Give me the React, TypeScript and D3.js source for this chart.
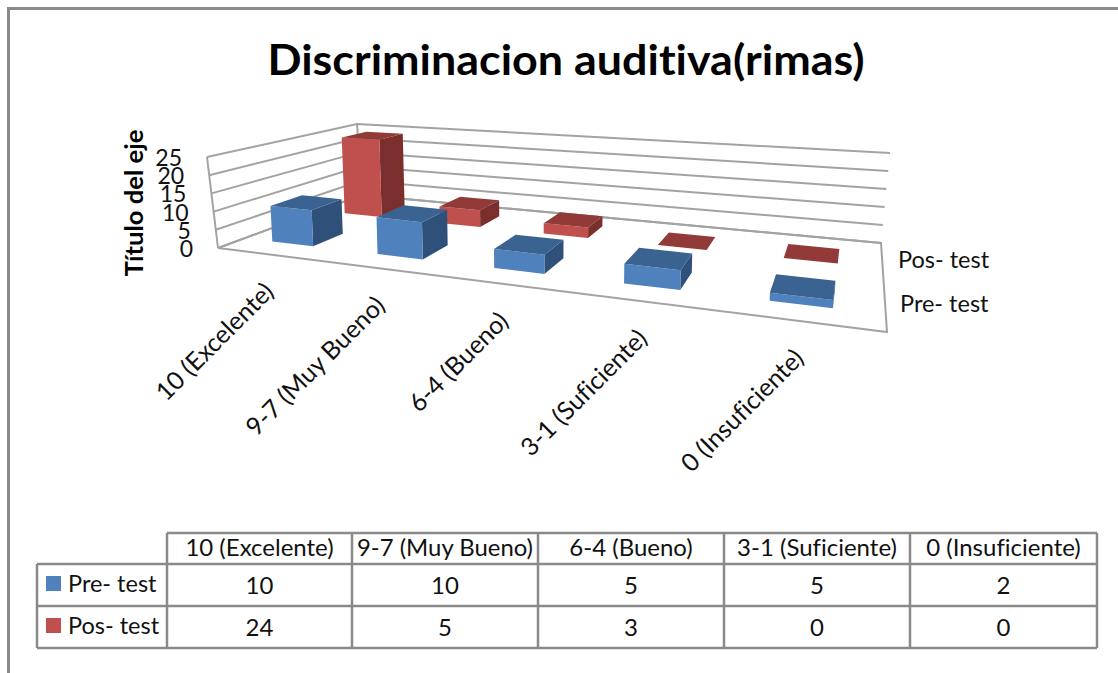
import React from "react";
import * as d3 from "d3";

const categories = ["10 (Excelente)", "9-7 (Muy Bueno)", "6-4 (Bueno)", "3-1 (Suficiente)", "0 (Insuficiente)"];
const preTest = [10, 10, 5, 5, 2];
const posTest = [24, 5, 3, 0, 0];
const seriesNames = ["Pre- test", "Pos- test"];
const valueTicks = [0, 5, 10, 15, 20, 25];

const FONT = "Lato, Carlito, sans-serif";
type P = [number, number];

// Homography from the unit square to a quad (p00,p10,p11,p01)
function quadMap(p00: P, p10: P, p11: P, p01: P) {
  const dx1 = p10[0] - p11[0], dx2 = p01[0] - p11[0], sx = p00[0] - p10[0] + p11[0] - p01[0];
  const dy1 = p10[1] - p11[1], dy2 = p01[1] - p11[1], sy = p00[1] - p10[1] + p11[1] - p01[1];
  const det = dx1 * dy2 - dx2 * dy1;
  const g = (sx * dy2 - dx2 * sy) / det;
  const h = (dx1 * sy - sx * dy1) / det;
  const a = p10[0] - p00[0] + g * p10[0], b = p01[0] - p00[0] + h * p01[0], c = p00[0];
  const d = p10[1] - p00[1] + g * p10[1], e = p01[1] - p00[1] + h * p01[1], f = p00[1];
  return (u: number, v: number): P => {
    const w = g * u + h * v + 1;
    return [(a * u + b * v + c) / w, (d * u + e * v + f) / w];
  };
}

const floor = quadMap([218, 248], [887, 332], [881, 243], [362, 195]);
// rise of the full 0-25 axis at the four floor corners: FL, FR, BR, BL
const rise: P[] = [[-11, -91], [9, -105], [9, -90], [-5, -71]];
const yScale = d3.scaleLinear().domain([0, 25]).range([0, 1]);
const project = (c: number, s: number, val: number, leanK = 1): P => {
  const a = floor(c, s), t = yScale(val);
  const lerp = (i: number) =>
    (1 - s) * ((1 - c) * rise[0][i] + c * rise[1][i]) + s * ((1 - c) * rise[3][i] + c * rise[2][i]);
  return [a[0] + lerp(0) * t * leanK, a[1] + lerp(1) * t];
};
const catBand = d3.scaleBand<string>().domain(categories).range([-0.004, 0.996]).paddingInner(0.6).paddingOuter(0.3);
const serBand = d3.scaleBand<string>().domain(seriesNames).range([0, 1]).paddingInner(0.6).paddingOuter(0.3);
const poly = (pts: P[]) => d3.line()(pts) + "Z";

const palette = [
  { front: "#4F81BD", top: "#3B6392", side: "#2F5179" },
  { front: "#C0504D", top: "#923A38", side: "#7B2F2D" },
];

function Bar({ ci, si, value }: { ci: number; si: number; value: number }) {
  const c0 = catBand(categories[ci])!, c1 = c0 + catBand.bandwidth();
  const s0 = serBand(seriesNames[si])!, s1 = s0 + serBand.bandwidth();
  const col = palette[si];
  const k = 0.5;
  const fb0 = project(c0, s0, 0), fb1 = project(c1, s0, 0), bb1 = project(c1, s1, 0);
  const ft0 = project(c0, s0, value, k), ft1 = project(c1, s0, value, k), bt0 = project(c0, s1, value, k), bt1 = project(c1, s1, value, k);
  return (
    <g>
      {bt1[0] > ft1[0] && value > 0 && <path d={poly([ft1, bt1, bb1, fb1])} fill={col.side} />}
      {value > 0 && <path d={poly([fb0, fb1, ft1, ft0])} fill={col.front} />}
      <path d={poly([ft0, ft1, bt1, bt0])} fill={col.top} />
    </g>
  );
}

const colX = [37, 167, 352, 538, 724, 910, 1097];
const rowY = [533, 564, 606, 648];
const LINE = "#8a8a8a";

export default function App() {
  const rows = [preTest, posTest];
  return (
    <svg width={1118} height={673} style={{ position: "absolute", left: 0, top: 0, background: "#fff", fontVariantLigatures: "none" }} fontFamily={FONT}>
      <path d="M8.5 673V8.5H1118" fill="none" stroke="#8a8a8a" strokeWidth={3} />
      <text x={566} y={75} textAnchor="middle" fontSize={42} fontWeight={700} fill="#000" textLength={597} lengthAdjust="spacingAndGlyphs">Discriminacion auditiva(rimas)</text>

      {/* walls */}
      <g fill="none" stroke="#a3a3a3" strokeWidth={2}>
        {valueTicks.map((t) => (
          <path key={t} d={d3.line()([project(0, 0, t), project(0, 1, t), project(1, 1, t)])!} />
        ))}
        <path d={d3.line()([project(0, 0, 0), project(0, 0, 25)])!} />
        <path d={d3.line()([project(0, 1, 0), project(0, 1, 25)])!} />
        <path d={poly([project(0, 0, 0), project(1, 0, 0), project(1, 1, 0), project(0, 1, 0)])} />
      </g>

      {/* bars, back row first */}
      {[1, 0].map((si) =>
        rows[si].map((v, ci) => <Bar key={si + "-" + ci} ci={ci} si={si} value={v} />)
      )}

      {/* value axis */}
      {valueTicks.map((t) => {
        const p = project(0, 0, t);
        return (
          <text key={t} x={p[0] - 25} y={p[1] + 9} textAnchor="end" fontSize={23} fill="#111">{t}</text>
        );
      })}
      <text transform="translate(143,203) rotate(-90)" textAnchor="middle" fontSize={25} fontWeight={700} fill="#000" textLength={147} lengthAdjust="spacingAndGlyphs">Título del eje</text>

      {/* category labels */}
      {categories.map((c) => {
        const p = project(catBand(c)! + catBand.bandwidth() / 2, 0, 0);
        return (
          <text key={c} transform={`translate(${p[0] + 8},${p[1] + 39}) rotate(-45)`} textAnchor="end" fontSize={25} fill="#111">{c}</text>
        );
      })}

      {/* series labels */}
      <text x={898} y={268} fontSize={23.5} fill="#111">{seriesNames[1]}</text>
      <text x={900} y={312} fontSize={23.5} fill="#111">{seriesNames[0]}</text>

      {/* data table */}
      <g stroke={LINE} strokeWidth={2.5} fill="none">
        <path d={`M${colX[1]} ${rowY[0]}H${colX[6]}`} />
        {rowY.slice(1).map((y) => <path key={y} d={`M${colX[0]} ${y}H${colX[6]}`} />)}
        <path d={`M${colX[0]} ${rowY[1]}V${rowY[3]}`} />
        {colX.slice(1).map((x) => <path key={x} d={`M${x} ${rowY[0]}V${rowY[3]}`} />)}
      </g>
      {categories.map((c, i) => (
        <text key={c} x={(colX[i + 1] + colX[i + 2]) / 2} y={556} textAnchor="middle" fontSize={24} fill="#111" textLength={i === 1 ? 176 : undefined} lengthAdjust="spacingAndGlyphs">{c}</text>
      ))}
      {rows.map((r, si) => (
        <g key={si}>
          <rect x={46} y={rowY[si + 1] + 12} width={15} height={15} fill={palette[si].front} />
          <text x={68} y={rowY[si + 1] + 28} fontSize={23.5} fill="#111">{seriesNames[si]}</text>
          {r.map((v, i) => (
            <text key={i} x={(colX[i + 1] + colX[i + 2]) / 2} y={rowY[si + 1] + 30} textAnchor="middle" fontSize={24} fill="#111">{v}</text>
          ))}
        </g>
      ))}
    </svg>
  );
}
